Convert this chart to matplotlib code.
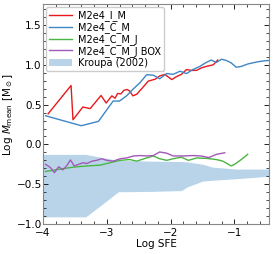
import matplotlib

matplotlib.use('Agg')
import matplotlib.pyplot as plt
from matplotlib.ticker import AutoMinorLocator

# M2e4_I_M
red_x = [-3.92, -3.56, -3.53, -3.375, -3.26, -3.09, -3.01, -2.92, -2.87, -2.83, -2.78, -2.73,
         -2.68, -2.64, -2.59, -2.53, -2.43, -2.35, -2.24, -2.17, -2.09, -2.04, -1.98, -1.91,
         -1.83, -1.75, -1.67, -1.59, -1.52, -1.44, -1.33, -1.26]
red_y = [0.385, 0.74, 0.31, 0.47, 0.45, 0.615, 0.52, 0.61, 0.58, 0.64, 0.635, 0.68,
         0.69, 0.67, 0.61, 0.63, 0.72, 0.795, 0.82, 0.86, 0.88, 0.85, 0.815, 0.85,
         0.88, 0.94, 0.93, 0.93, 0.96, 0.98, 1.0, 1.06]

# M2e4_C_M
blue_x = [-3.96, -3.40, -3.13, -2.90, -2.80, -2.69, -2.58, -2.48, -2.375, -2.27, -2.17, -2.06,
          -1.96, -1.85, -1.75, -1.65, -1.54, -1.44, -1.36, -1.28, -1.20, -1.125, -1.05, -0.97,
          -0.89, -0.79, -0.68, -0.58, -0.46]
blue_y = [0.36, 0.235, 0.29, 0.545, 0.545, 0.61, 0.70, 0.775, 0.875, 0.87, 0.825, 0.89,
          0.88, 0.92, 0.89, 0.94, 0.98, 1.03, 1.06, 1.03, 1.07, 1.055, 1.025, 0.97,
          0.98, 1.01, 1.03, 1.045, 1.055]

# M2e4_C_M_J
green_x = [-3.96, -3.73, -3.52, -3.31, -3.10, -2.95, -2.79, -2.64, -2.53, -2.375, -2.27, -2.17,
           -2.06, -1.96, -1.83, -1.72, -1.59, -1.44, -1.28, -1.18, -1.05, -0.995, -0.89, -0.79]
green_y = [-0.34, -0.31, -0.285, -0.27, -0.26, -0.23, -0.20, -0.19, -0.21, -0.17, -0.145, -0.18,
           -0.20, -0.18, -0.16, -0.20, -0.17, -0.175, -0.19, -0.21, -0.27, -0.25, -0.19, -0.125]

# M2e4_C_M_J BOX
purple_x = [-3.96, -3.885, -3.82, -3.755, -3.69, -3.625, -3.57, -3.51, -3.44, -3.375, -3.31,
            -3.23, -3.16, -3.08, -3.0, -2.90, -2.79, -2.69, -2.58, -2.48, -2.375, -2.27, -2.17,
            -2.06, -1.96, -1.80, -1.65, -1.52, -1.40, -1.28, -1.15]
purple_y = [-0.25, -0.29, -0.355, -0.28, -0.32, -0.265, -0.195, -0.27, -0.25, -0.23, -0.24,
            -0.21, -0.20, -0.18, -0.20, -0.21, -0.18, -0.17, -0.145, -0.14, -0.145, -0.14, -0.095,
            -0.11, -0.145, -0.145, -0.14, -0.145, -0.165, -0.125, -0.105]

# Kroupa (2002) band
kr_x = [-4.0, -3.33, -3.1, -2.82, -2.3, -1.83, -1.73, -1.49, -1.34, -0.96, -0.45]
kr_lo = [-0.91, -0.91, -0.77, -0.595, -0.59, -0.58, -0.53, -0.46, -0.45, -0.43, -0.40]
kr_hi = [-0.125, -0.125, -0.16, -0.20, -0.21, -0.215, -0.22, -0.25, -0.285, -0.31, -0.31]

fig = plt.figure(figsize=(2.74, 2.54), dpi=100)
ax = fig.add_axes([0.157, 0.118, 0.826, 0.865])

ax.fill_between(kr_x, kr_lo, kr_hi, color='#b9d4e8', lw=0, label='Kroupa (2002)')
ax.plot(red_x, red_y, color='#e8191c', lw=1.0, label='M2e4_I_M')
ax.plot(blue_x, blue_y, color='#3f86c4', lw=1.0, label='M2e4_C_M')
ax.plot(green_x, green_y, color='#4bb543', lw=1.0, label='M2e4_C_M_J')
ax.plot(purple_x, purple_y, color='#a359b8', lw=1.0, label='M2e4_C_M_J BOX')

ax.set_xlim(-4.0, -0.45)
ax.set_ylim(-1.0, 1.76)
ax.set_xticks([-4, -3, -2, -1])
ax.set_yticks([-1.0, -0.5, 0.0, 0.5, 1.0, 1.5])
ax.xaxis.set_minor_locator(AutoMinorLocator(5))
ax.yaxis.set_minor_locator(AutoMinorLocator(5))
ax.tick_params(which='both', direction='in', top=True, right=True, labelsize=7.5)
ax.tick_params(which='major', length=3.5, width=0.6)
ax.tick_params(which='minor', length=2, width=0.5)
ax.tick_params(axis='y', which='major', pad=1)
ax.tick_params(axis='x', which='major', pad=2.5)
for s in ax.spines.values():
    s.set_color('#888888')

ax.set_xlabel('Log SFE', fontsize=7.5, labelpad=1)
ax.set_ylabel(r'Log $M_{\rm mean}$ [M$_\odot$]', fontsize=7.5, labelpad=1)

handles, labels = ax.get_legend_handles_labels()
order = [1, 2, 3, 4, 0]
ax.legend([handles[i] for i in order], [labels[i] for i in order], loc='upper left',
          fontsize=7, handlelength=2.4, labelspacing=0.1, borderpad=0.3,
          handletextpad=0.6, borderaxespad=0.3, framealpha=1)

fig.savefig('out.png', dpi=100)
